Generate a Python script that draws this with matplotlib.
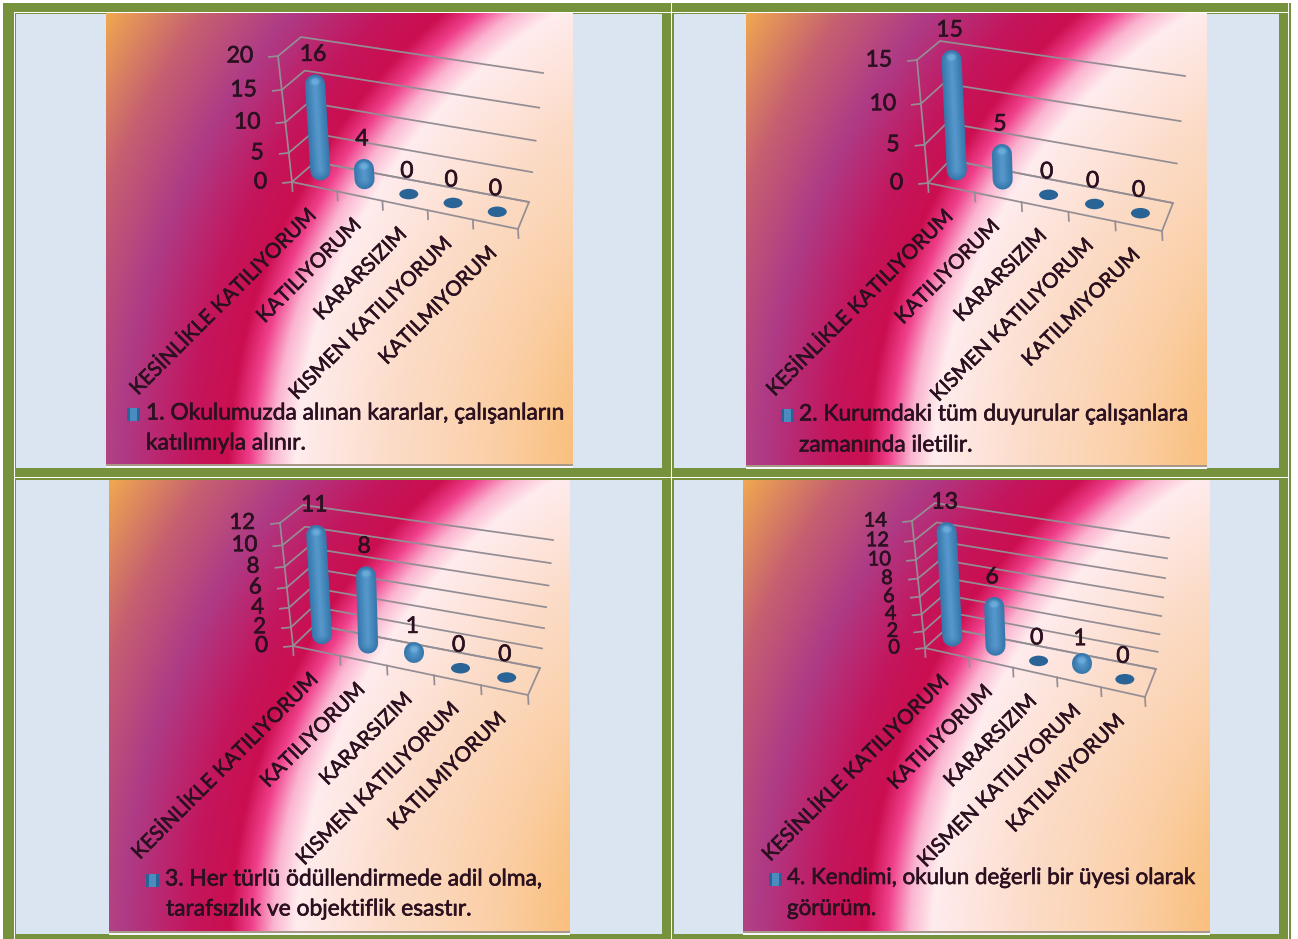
import numpy as np
import matplotlib
matplotlib.use('Agg')
import matplotlib.pyplot as plt
import matplotlib.patheffects as pe
from matplotlib.colors import LinearSegmentedColormap
from matplotlib.patches import Ellipse, Rectangle

plt.rcParams['font.family'] = ['Lato', 'DejaVu Sans']

# Chart data
categories = ['KESİNLİKLE KATILIYORUM', 'KATILIYORUM', 'KARARSIZIM',
              'KISMEN KATILIYORUM', 'KATILMIYORUM']
values_1 = [16, 4, 0, 0, 0]
values_2 = [15, 5, 0, 0, 0]
values_3 = [11, 8, 1, 0, 0]
values_4 = [13, 6, 0, 1, 0]
ticks_1 = [0, 5, 10, 15, 20]
ticks_2 = [0, 5, 10, 15]
ticks_3 = [0, 2, 4, 6, 8, 10, 12]
ticks_4 = [0, 2, 4, 6, 8, 10, 12, 14]
legend_1 = ['1. Okulumuzda alınan kararlar, çalışanların', 'katılımıyla alınır.']
legend_2 = ['2. Kurumdaki tüm duyurular çalışanlara', 'zamanında iletilir.']
legend_3 = ['3. Her türlü ödüllendirmede adil olma,', 'tarafsızlık ve objektiflik esastır.']
legend_4 = ['4. Kendimi, okulun değerli bir üyesi olarak', 'görürüm.']

# Layout in pixels: picture box, then the corners of the 3D box
panels = [
    dict(values=values_1, ticks=ticks_1, legend=legend_1, tick_size=16.5, leg_size=16.4,
         cell=(16, 13.5, 662, 468), img=(106, 13.5, 573, 465),
         fl=(292, 182), fr=(518, 229), bl=(315, 162), br=(529, 202),
         tfl=(278, 56), tbl=(301, 37), tbr=(543, 73),
         leg=(133, 414, 146, 413, 146, 443)),
    dict(values=values_2, ticks=ticks_2, legend=legend_2, tick_size=16.5, leg_size=16.4,
         cell=(674, 13.5, 1279, 468), img=(746, 13.5, 1207, 466),
         fl=(928, 183), fr=(1162, 231), bl=(950, 160), br=(1173, 203),
         tfl=(917, 60), tbl=(940, 41), tbr=(1185, 76),
         leg=(787, 415, 799, 414, 799, 445)),
    dict(values=values_3, ticks=ticks_3, legend=legend_3, tick_size=16, leg_size=16.4,
         cell=(16, 480, 662, 934), img=(109, 480, 570, 932),
         fl=(293, 646), fr=(528, 695), bl=(315, 625), br=(540, 668),
         tfl=(280, 523), tbl=(303, 505), tbr=(553, 540),
         leg=(152, 880, 165, 879, 166, 909)),
    dict(values=values_4, ticks=ticks_4, legend=legend_4, tick_size=14.5, leg_size=16.1,
         cell=(674, 480, 1279, 934), img=(743, 480, 1210, 932),
         fl=(925, 648), fr=(1145, 697), bl=(947, 628), br=(1156, 669),
         tfl=(912, 521), tbl=(935, 503), tbr=(1169, 538),
         leg=(775, 879, 787, 878, 787, 909)),
]

OLIVE = '#76923C'
CELL = '#DBE5F1'
GRID = '#948E94'
TEXT = '#2B1020'
heavy = [pe.withStroke(linewidth=0.45, foreground=TEXT)]

# Radial fill of the chart area, stops are distance from centre
stops = [(0.0, '#F8B868'), (260, '#F9BE7A'), (350, '#FBD0A8'), (450, '#FCDCC8'),
         (545, '#FFECEE'), (568, '#FBB4D0'), (590, '#F0408C'), (612, '#CB0F50'),
         (650, '#C4155C'), (720, '#AE3B86'), (790, '#C66070'), (869, '#F0A850'),
         (1000, '#F0A850')]
cmap = LinearSegmentedColormap.from_list('bg', [(r / 1000 if r else 0, c) for r, c in stops], N=2048)


def lerp(a, b, t):
    return (a[0] + (b[0] - a[0]) * t, a[1] + (b[1] - a[1]) * t)


# the upper steps of the value axis are a bit longer, it is a perspective view
def height(t):
    return t - 0.1 * t * (1 - t)


def draw_background(ax, img):
    x0, y0, x1, y1 = img
    xs, ys = np.meshgrid(np.linspace(0, 1, 500), np.linspace(0, 1, 500))
    r = np.hypot((xs - 1.572) * 467, (ys - 1.033) * 451)
    ax.imshow(r / 1000, extent=(x0, x1, y1, y0), cmap=cmap, vmin=0, vmax=1,
              aspect='auto', interpolation='bilinear', zorder=1)
    ax.add_patch(Rectangle((x0, y1 - 1), x1 - x0, 1.5, color='#A89888', lw=0, zorder=2))
    ax.add_patch(Rectangle((x0, y1 + 0.5), x1 - x0, 2, color='#F4F6FA', lw=0, zorder=2))


def draw_bar(ax, base, top, value):
    if value == 0:
        ax.add_patch(Ellipse(base, 19, 10.5, color='#2A6496', lw=0, zorder=6))
        return
    # stacked strokes give the rounded cylinder look
    radius = 10
    start = (base[0], base[1] - radius + 4)
    end = (top[0], top[1] + radius - 3)
    if end[1] > start[1]:
        end = (start[0], start[1] - 1)
    dark = np.array(matplotlib.colors.to_rgb('#3677AB'))
    light = np.array(matplotlib.colors.to_rgb('#5596CA'))
    layers = np.linspace(20, 3, 12)
    for k, w in enumerate(layers):
        col = dark + (light - dark) * k / (len(layers) - 1)
        ax.plot([start[0], end[0]], [start[1], end[1]], color=col,
                lw=w * 0.72, solid_capstyle='round', zorder=6 + k * 0.01)
    for size, a in [(11, 0.25), (7, 0.45)]:
        ax.add_patch(Ellipse((end[0], end[1] - 3), size, size * 0.8, color='#7CC0EA', lw=0, alpha=a, zorder=6.5))


def draw_panel(ax, p):
    draw_background(ax, p['img'])
    fl, fr, bl, br = p['fl'], p['fr'], p['bl'], p['br']
    tfl, tbl, tbr = p['tfl'], p['tbl'], p['tbr']
    ticks = p['ticks']
    ymax = ticks[-1]
    grid = dict(color=GRID, lw=1.25, zorder=3)

    # gridlines on both walls plus tick stubs
    for t in ticks:
        h = height(t / ymax)
        f = lerp(fl, tfl, h)
        b = lerp(bl, tbl, h)
        r = lerp(br, tbr, h)
        ax.plot([f[0], b[0], r[0]], [f[1], b[1], r[1]], **grid)
        ax.plot([f[0] - 9, f[0]], [f[1] + 1, f[1]], **grid)
        ax.text(f[0] - 25, f[1], str(t), ha='right', va='center', fontsize=p['tick_size'],
                color=TEXT, zorder=8, path_effects=heavy)

    # remaining box edges
    ax.plot([fl[0], tfl[0]], [fl[1], tfl[1]], **grid)
    ax.plot([fl[0], fr[0], br[0], bl[0]], [fl[1], fr[1], br[1], bl[1]], **grid)

    n = len(categories)
    for i in range(n + 1):
        e = lerp(fl, fr, i / n)
        ax.plot([e[0], e[0] + 0.5], [e[1], e[1] + 9], **grid)

    # bars, labels
    for i, (name, v) in enumerate(zip(categories, p['values'])):
        u = (i + 0.5) / n
        front = lerp(fl, fr, u)
        back = lerp(bl, br, u)
        base = lerp(front, back, 0.4)
        base = (base[0] - 3, base[1] - 2)
        left = (tfl[0] - fl[0], tfl[1] - fl[1])
        right = (tbr[0] - br[0], tbr[1] - br[1])
        vec = lerp(left, right, u)
        h = height(v / ymax)
        top = (base[0] + 0.6 * vec[0] * h, base[1] + vec[1] * h)
        draw_bar(ax, base, top, v)
        ax.text(top[0] - 2, top[1] - (23 if v == 0 else 23), str(v), ha='center', va='center',
                fontsize=16.5, color=TEXT, zorder=8, path_effects=heavy)
        ax.text(front[0] - 2, front[1] + 26, name, rotation=45, rotation_mode='anchor',
                ha='right', va='center', fontsize=14.8, color=TEXT, zorder=8, path_effects=heavy)

    # legend
    mx, my, tx, ty, tx2, ty2 = p['leg']
    ax.add_patch(Rectangle((mx - 6.5, my - 6.5), 13, 13, color='#4A8CC0', lw=0, zorder=8))
    ax.add_patch(Rectangle((mx - 6.5, my - 6.5), 3, 13, color='#2A6496', lw=0, zorder=8))
    ax.add_patch(Rectangle((mx + 3.5, my - 6.5), 3, 13, color='#2A6496', lw=0, zorder=8))
    ax.text(tx, ty, p['legend'][0], ha='left', va='center', fontsize=p['leg_size'], color=TEXT,
            zorder=8, path_effects=heavy)
    ax.text(tx2, ty2, p['legend'][1], ha='left', va='center', fontsize=p['leg_size'], color=TEXT,
            zorder=8, path_effects=heavy)


fig = plt.figure(figsize=(12.98, 9.39), dpi=100)
fig.patch.set_facecolor('white')
ax = fig.add_axes([0, 0, 1, 1])
ax.axis('off')

# Table frame
ax.add_patch(Rectangle((3, 3), 1288, 936, color=OLIVE, lw=0, zorder=0))
ax.add_patch(Rectangle((14, 11.5), 1275, 1, color='white', lw=0, zorder=0.2))
ax.add_patch(Rectangle((14, 477), 1275, 1, color='white', lw=0, zorder=0.2))
ax.add_patch(Rectangle((14, 11.5), 1, 927.5, color='white', lw=0, zorder=0.2))
ax.add_patch(Rectangle((671, 3), 1, 936, color='white', lw=0, zorder=0.2))
ax.add_patch(Rectangle((1288, 3), 1, 936, color='white', lw=0, zorder=0.2))

for p in panels:
    x0, y0, x1, y1 = p['cell']
    ax.add_patch(Rectangle((x0, y0), x1 - x0, y1 - y0, color=CELL, lw=0, zorder=0.5))
    draw_panel(ax, p)

ax.set_xlim(0, 1298)
ax.set_ylim(939, 0)
fig.savefig('out.png', dpi=100)
